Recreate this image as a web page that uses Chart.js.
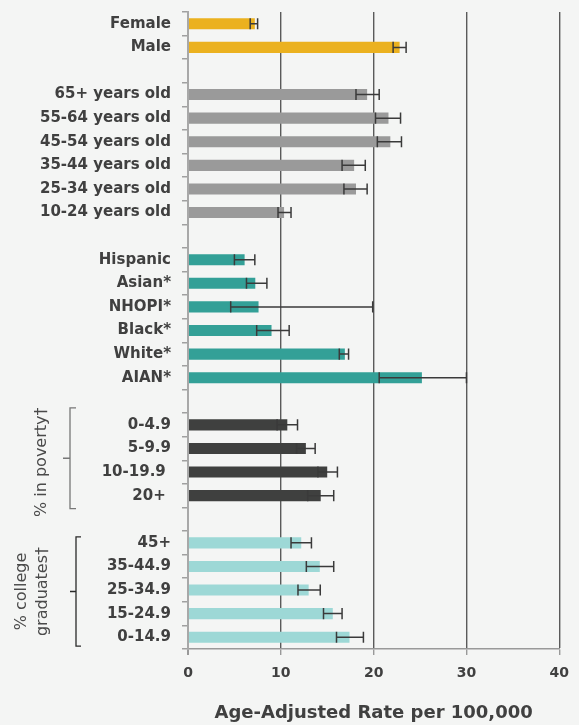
<!DOCTYPE html>
<html>
<head>
<meta charset="utf-8">
<script src="https://cdn.jsdelivr.net/npm/chart.js@4"></script>
<style>
  html, body { margin: 0; padding: 0; background: #f4f5f4; }
  #wrap { width: 579px; height: 725px; }
</style>
</head>
<body>
<div id="wrap"><canvas id="myChart" width="579" height="725"></canvas></div>
<script>
// categories, top to bottom ('' = gap between groups)
const labels = [
  'Female', 'Male', '',
  '65+ years old', '55-64 years old', '45-54 years old', '35-44 years old', '25-34 years old', '10-24 years old', '',
  'Hispanic', 'Asian*', 'NHOPI*', 'Black*', 'White*', 'AIAN*', '',
  '0-4.9', '5-9.9', '10-19.9 ', '20+ ', '',
  '45+', '35-44.9', '25-34.9', '15-24.9', '0-14.9'
];
// age-adjusted rate per 100,000
const rates = [
  7.2, 22.8, null,
  19.3, 21.6, 21.8, 17.9, 18.1, 10.35, null,
  6.1, 7.25, 7.6, 9.0, 16.9, 25.2, null,
  10.7, 12.7, 15.0, 14.3, null,
  12.2, 14.2, 13.0, 15.6, 17.4
];
// 95% CI lower / upper
const lower = [
  6.7, 22.1, null,
  18.1, 20.2, 20.4, 16.6, 16.8, 9.7, null,
  5.0, 6.3, 4.6, 7.4, 16.3, 20.6, null,
  9.6, 11.7, 14.0, 12.9, null,
  11.1, 12.75, 11.85, 14.6, 16.0
];
const upper = [
  7.5, 23.5, null,
  20.6, 22.9, 23.0, 19.1, 19.3, 11.1, null,
  7.2, 8.5, 19.9, 10.9, 17.3, 30.0, null,
  11.8, 13.7, 16.1, 15.7, null,
  13.3, 15.7, 14.25, 16.6, 18.9
];
const xTicks = [0, 10, 20, 30, 40];

const GOLD = '#ebb11f', GRAY = '#9a9a9a', TEAL = '#33a097', DARK = '#3f403f', LTEAL = '#9dd8d6';
const groupColors = [GOLD, GOLD, null, GRAY, GRAY, GRAY, GRAY, GRAY, GRAY, null,
  TEAL, TEAL, TEAL, TEAL, TEAL, TEAL, null, DARK, DARK, DARK, DARK, null,
  LTEAL, LTEAL, LTEAL, LTEAL, LTEAL];

const TXT = '#404040';
const FONT = '"DejaVu Sans", sans-serif';

//error bars drawn on top of the bars
const errorBars = {
  id: 'errorBars',
  afterDatasetsDraw(chart) {
    const {ctx, scales: {x, y}} = chart;
    const meta = chart.getDatasetMeta(0);
    ctx.save();
    ctx.strokeStyle = '#3a3a3a';
    ctx.lineWidth = 1.5;
    lower.forEach((lo, i) => {
      if (lo === null) return;
      const bar = meta.data[i];
      const cy = y.getPixelForValue(i);
      const h = bar.height / 2;
      const x1 = x.getPixelForValue(lo), x2 = x.getPixelForValue(upper[i]);
      ctx.beginPath();
      ctx.moveTo(x1, cy); ctx.lineTo(x2, cy);
      ctx.moveTo(x1, cy - h); ctx.lineTo(x1, cy + h);
      ctx.moveTo(x2, cy - h); ctx.lineTo(x2, cy + h);
      ctx.stroke();
    });
    ctx.restore();
  }
};

//brackets + rotated group names on the left
const brackets = {
  id: 'brackets',
  afterDraw(chart) {
    const {ctx, scales: {y}} = chart;
    const drawBracket = (xLine, top, bottom, serif, nub, color) => {
      const mid = (top + bottom) / 2;
      ctx.save();
      ctx.strokeStyle = color;
      ctx.lineWidth = 1.3;
      ctx.beginPath();
      ctx.moveTo(xLine + serif, top); ctx.lineTo(xLine, top);
      ctx.lineTo(xLine, bottom); ctx.lineTo(xLine + serif, bottom);
      ctx.moveTo(xLine, mid); ctx.lineTo(xLine - nub, mid);
      ctx.stroke();
      ctx.restore();
    };
    const rotText = (lines, cx, cy, gap) => {
      ctx.save();
      ctx.translate(cx, cy);
      ctx.rotate(-Math.PI / 2);
      ctx.fillStyle = '#4a4a4a';
      ctx.font = '16px ' + FONT;
      ctx.textAlign = 'center';
      ctx.textBaseline = 'middle';
      lines.forEach((t, k) => ctx.fillText(t, 0, (k - (lines.length - 1) / 2) * gap));
      ctx.restore();
    };
    // poverty rows 17..20
    const pTop = y.getPixelForValue(17) - 17, pBot = y.getPixelForValue(20) + 13;
    drawBracket(70, pTop, pBot, 6, 7, '#777');
    rotText(['% in poverty†'], 42, (pTop + pBot) / 2 + 4, 0);
    // college rows 22..26
    const cTop = y.getPixelForValue(22) - 6, cBot = y.getPixelForValue(26) + 9;
    drawBracket(76, cTop, cBot, 5, 6, '#2a2a2a');
    rotText(['% college', 'graduates†'], 32, (cTop + cBot) / 2, 21);
  }
};

const ctx = document.getElementById('myChart').getContext('2d');
new Chart(ctx, {
  type: 'bar',
  data: {
    labels: labels,
    datasets: [{
      data: rates,
      backgroundColor: groupColors,
      borderWidth: 0,
      barPercentage: 0.94,
      categoryPercentage: 0.5,
    }]
  },
  options: {
    indexAxis: 'y',
    responsive: false,
    animation: false,
    devicePixelRatio: 1,
    layout: { padding: { left: 0, right: 17, top: 12, bottom: 0 } },
    plugins: { legend: { display: false }, tooltip: { enabled: false } },
    scales: {
      x: {
        min: 0, max: 40,
        afterBuildTicks: (s) => { s.ticks = xTicks.map(v => ({ value: v })); },
        afterFit: (s) => { s.height = 76; },
        grid: {
          color: (c) => c.tick && c.tick.value === 0 ? '#a8a8a8' : '#5a5a5a',
          lineWidth: (c) => c.tick && c.tick.value === 0 ? 2 : 1.4,
          tickLength: 6,
          tickColor: '#999',
        },
        border: { color: '#999', width: 1.5 },
        ticks: { color: TXT, padding: 10, font: { family: FONT, size: 14, weight: 'bold' } },
        title: {
          display: true,
          text: 'Age-Adjusted Rate per 100,000',
          color: TXT,
          font: { family: FONT, size: 18, weight: 'bold', lineHeight: 1 },
          padding: { top: 0, bottom: 3 },
        },
      },
      y: {
        afterFit: (s) => { s.width = 188; s.paddingTop = 0; s.paddingBottom = 0; },
        grid: { drawOnChartArea: false, offset: true, tickLength: 6, color: '#a0a0a0', lineWidth: 1.5 },
        border: { color: '#a8a8a8', width: 2 },
        ticks: { color: TXT, padding: 11, autoSkip: false, font: { family: FONT, size: 15, weight: 'bold' } },
      }
    }
  },
  plugins: [errorBars, brackets]
});
</script>
</body>
</html>
